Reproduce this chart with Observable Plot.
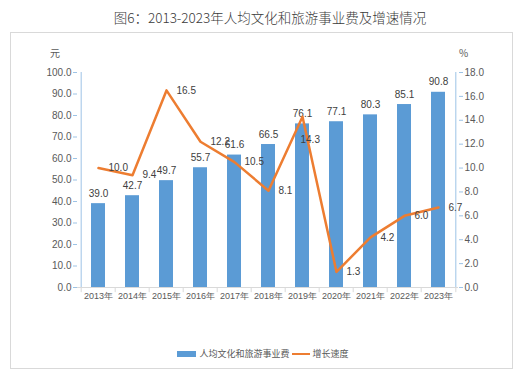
<!DOCTYPE html>
<html><head><meta charset="utf-8">
<script src="https://cdn.jsdelivr.net/npm/d3@7"></script>
<script src="https://cdn.jsdelivr.net/npm/@observablehq/plot@0.6"></script>
<style>
body{margin:0;background:#fff;}
#wrap{position:relative;width:530px;height:372px;overflow:hidden;font-family:"Liberation Sans",Arial,sans-serif;}
#title{position:absolute;left:0;width:540px;top:7px;text-align:center;font-family:"Noto Sans CJK SC";font-weight:300;font-size:13.5px;line-height:20px;color:#3a3a3a;white-space:nowrap;}
#box{position:absolute;left:10px;top:32px;width:503px;height:337px;border:1px solid #d9d9d9;box-sizing:border-box;}
#chart{position:absolute;left:0;top:0;}
.unit{position:absolute;font-family:"Noto Sans CJK SC";font-size:10px;color:#595959;line-height:12px;}
#legend{position:absolute;left:0;width:526px;top:347px;display:flex;justify-content:center;align-items:center;font-family:"Noto Sans CJK SC";font-size:9px;color:#595959;line-height:14px;}
#legend .sw{display:inline-block;width:19px;height:6px;background:#5b9bd5;margin-right:3px;}
#legend .ln{display:inline-block;width:18px;height:2.5px;background:#ed7d31;margin:0 3px 0 2px;}
</style></head>
<body>
<div id="wrap">
  <div id="title">图6：2013-2023年人均文化和旅游事业费及增速情况</div>
  <div id="box"></div>
  <div id="chart"></div>
  <div class="unit" style="left:50px;top:47px;">元</div>
  <div class="unit" style="left:459px;top:47px;">%</div>
  <div id="legend"><span class="sw"></span><span>人均文化和旅游事业费</span><span class="ln"></span><span>增长速度</span></div>
</div>
<script>
const years = ["2013年","2014年","2015年","2016年","2017年","2018年","2019年","2020年","2021年","2022年","2023年"];
const spending = [39.0,42.7,49.7,55.7,61.6,66.5,76.1,77.1,80.3,85.1,90.8];
const growth = [10.0,9.4,16.5,12.2,10.5,8.1,14.3,1.3,4.2,6.0,6.7];
const leftTicks = [0,10,20,30,40,50,60,70,80,90,100];
const rightTicks = [0,2,4,6,8,10,12,14,16,18];

const leftMax = 100, rightMax = 18;
const k = leftMax / rightMax;
const data = years.map((y, i) => ({year: y, spending: spending[i], growth: growth[i]}));
// the one growth label that sits below its point in the reference
const belowYear = "2019年";

const W = 530, H = 330, mL = 77, mR = 72, mT = 72, mB = 43;
const step = (W - mL - mR) / years.length;

const chart = Plot.plot({
  width: W, height: H,
  marginLeft: mL, marginRight: mR, marginTop: mT, marginBottom: mB,
  style: {fontFamily: '"Liberation Sans", Arial, sans-serif', fontSize: "10px", background: "transparent"},
  x: {type: "band", domain: years, paddingInner: 0.6, paddingOuter: 0.3, axis: null},
  y: {domain: [0, leftMax], axis: null},
  marks: [
    Plot.barY(data, {x: "year", y: "spending", fill: "#5b9bd5"}),
    Plot.ruleY([0], {stroke: "#d9d9d9"}),
    Plot.ruleX(years, {x: d => d, y1: 0, y2: -2.4, dx: -step / 2, stroke: "#d9d9d9"}),
    Plot.ruleX([years[years.length - 1]], {x: d => d, y1: 0, y2: -2.4, dx: step / 2, stroke: "#d9d9d9"}),
    Plot.axisX({tickSize: 0, tickPadding: 5, fill: "#595959", fontSize: 9, label: null}),
    Plot.ruleX([years[0]], {x: d => d, y1: 0, y2: leftMax, dx: -step / 2, stroke: "#9dc3e6"}),
    Plot.ruleX([years[years.length - 1]], {x: d => d, y1: 0, y2: leftMax, dx: step / 2, stroke: "#9dc3e6"}),
    Plot.axisY({ticks: leftTicks, tickFormat: d => d.toFixed(1), tickSize: 4, tickPadding: 2, stroke: "#9dc3e6", fill: "#595959", fontSize: 10, label: null}),
    Plot.axisY({anchor: "right", ticks: rightTicks.map(v => v * k), tickFormat: d => (d / k).toFixed(1), tickSize: 4, tickPadding: 2, stroke: "#9dc3e6", fill: "#595959", fontSize: 10, label: null}),
    Plot.text(data, {x: "year", y: "spending", text: d => d.spending.toFixed(1), dy: -10, fill: "#404040", fontSize: 10}),
    Plot.line(data, {x: "year", y: d => d.growth * k, stroke: "#ed7d31", strokeWidth: 2.5}),
    Plot.text(data.filter(d => d.year !== belowYear), {x: "year", y: d => d.growth * k, text: d => d.growth.toFixed(1), dx: 10, textAnchor: "start", fill: "#404040", fontSize: 10}),
    Plot.text(data.filter(d => d.year === belowYear), {x: "year", y: d => d.growth * k, text: d => d.growth.toFixed(1), dx: -2, dy: 23, textAnchor: "start", fill: "#404040", fontSize: 10})
  ]
});
document.getElementById("chart").appendChild(chart);
</script>
</body></html>
